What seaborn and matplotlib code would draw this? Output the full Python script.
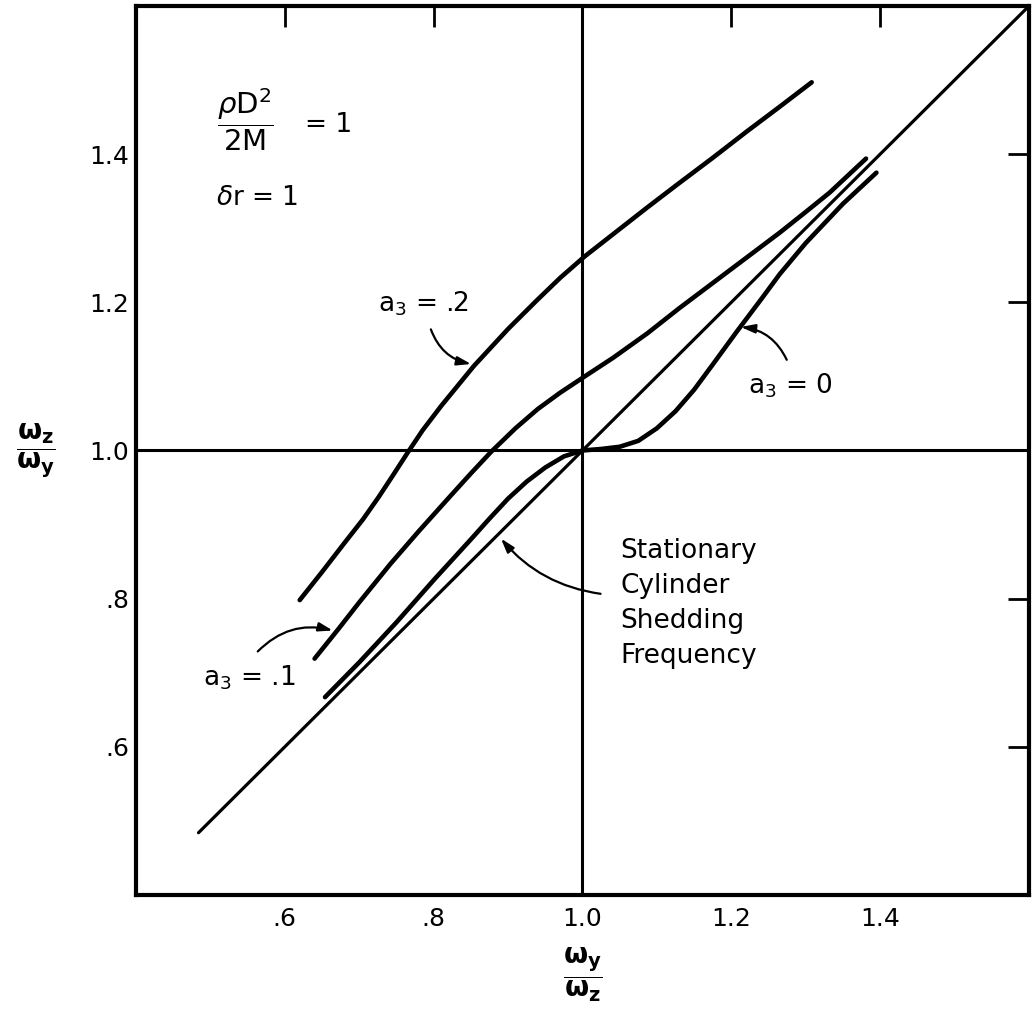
import matplotlib
matplotlib.use("Agg")
import matplotlib.pyplot as plt
import seaborn as sns
import pandas as pd

sns.set_theme(style="white")
plt.rcParams['font.family'] = ['DejaVu Sans']
plt.rcParams['mathtext.fontset'] = 'dejavusans'
plt.rcParams['text.color'] = 'black'
plt.rcParams['axes.labelcolor'] = 'black'

# ---- data ----
diag_x = [0.484, 1.60]
diag_y = [0.484, 1.60]

a0_x = [0.654, 0.70, 0.75, 0.80, 0.85, 0.875, 0.90, 0.925, 0.95, 0.975, 1.0, 1.025, 1.05,
        1.075, 1.10, 1.125, 1.15, 1.175, 1.207, 1.24, 1.265, 1.30, 1.35, 1.395]
a0_y = [0.667, 0.714, 0.768, 0.825, 0.880, 0.908, 0.935, 0.958, 0.977, 0.992, 1.0, 1.002, 1.005,
        1.013, 1.030, 1.053, 1.082, 1.116, 1.160, 1.204, 1.238, 1.280, 1.333, 1.375]

a1_x = [0.640, 0.672, 0.70, 0.742, 0.78, 0.822, 0.85, 0.877, 0.91, 0.940, 0.97, 1.0,
        1.041, 1.087, 1.13, 1.175, 1.22, 1.265, 1.30, 1.332, 1.381]
a1_y = [0.719, 0.759, 0.795, 0.847, 0.891, 0.938, 0.969, 0.998, 1.030, 1.056, 1.078, 1.098,
        1.125, 1.158, 1.192, 1.226, 1.260, 1.294, 1.322, 1.348, 1.394]

a2_x = [0.620, 0.650, 0.680, 0.705, 0.726, 0.745, 0.765, 0.785, 0.81, 0.854, 0.90, 0.938,
        0.97, 1.003, 1.045, 1.087, 1.13, 1.175, 1.22, 1.265, 1.308]
a2_y = [0.798, 0.836, 0.875, 0.907, 0.937, 0.966, 0.997, 1.027, 1.060, 1.114, 1.164, 1.202,
        1.233, 1.262, 1.295, 1.328, 1.361, 1.395, 1.430, 1.464, 1.497]

x_ticks = [0.6, 0.8, 1.0, 1.2, 1.4]
x_tick_labels = [".6", ".8", "1.0", "1.2", "1.4"]
y_ticks = [0.6, 0.8, 1.0, 1.2, 1.4]
y_tick_labels = [".6", ".8", "1.0", "1.2", "1.4"]

# ---- figure ----
fig = plt.figure(figsize=(10.35, 10.14), dpi=100)
ax = fig.add_axes([0.1314, 0.1174, 0.8628, 0.8767])

ax.axhline(1.0, color='black', lw=2.2, zorder=1)
ax.axvline(1.0, color='black', lw=2.2, zorder=1)

sns.lineplot(x=diag_x, y=diag_y, ax=ax, color='black', lw=2.3, sort=False, estimator=None)
for xs, ys in [(a0_x, a0_y), (a1_x, a1_y), (a2_x, a2_y)]:
    sns.lineplot(x=xs, y=ys, ax=ax, color='black', lw=3.3, sort=False, estimator=None,
                 solid_capstyle='round', solid_joinstyle='round')

ax.set_xlim(0.4, 1.6)
ax.set_ylim(0.4, 1.6)
ax.set_xticks(x_ticks)
ax.set_xticklabels(x_tick_labels)
ax.set_yticks(y_ticks)
ax.set_yticklabels(y_tick_labels)
ax.tick_params(axis='both', direction='in', length=15, width=2, labelsize=18,
               top=True, right=True, color='black', labelcolor='black')
ax.tick_params(axis='x', pad=9)
ax.tick_params(axis='y', pad=5)
for s in ax.spines.values():
    s.set_linewidth(3)
    s.set_color('black')

ax.set_xlabel(r'$\dfrac{\mathbf{\omega_y}}{\mathbf{\omega_z}}$', fontsize=20, labelpad=10)
ax.set_ylabel(r'$\dfrac{\mathbf{\omega_z}}{\mathbf{\omega_y}}$', fontsize=20, rotation=0,
              labelpad=38, va='center')

# parameter text
ax.text(0.547, 1.446, r'$\dfrac{\rho\mathrm{D}^{2}}{\mathrm{2M}}$', fontsize=21,
        ha='center', va='center')
ax.text(0.627, 1.440, '= 1', fontsize=19, ha='left', va='center')
ax.text(0.508, 1.341, r'$\delta$r = 1', fontsize=19, ha='left', va='center')

arrow_kw = dict(arrowstyle='-|>,head_length=0.7,head_width=0.22', color='black', lw=1.6)

# a3 = .2
ax.text(0.786, 1.198, 'a$_3$ = .2', fontsize=19, ha='center', va='center')
ax.annotate('', xy=(0.854, 1.116), xytext=(0.795, 1.167),
            arrowprops=dict(connectionstyle='arc3,rad=0.3', **arrow_kw))
# a3 = .1
ax.text(0.552, 0.693, 'a$_3$ = .1', fontsize=19, ha='center', va='center')
ax.annotate('', xy=(0.668, 0.756), xytext=(0.561, 0.726),
            arrowprops=dict(connectionstyle='arc3,rad=-0.3', **arrow_kw))
# a3 = 0
ax.text(1.280, 1.087, 'a$_3$ = 0', fontsize=19, ha='center', va='center')
ax.annotate('', xy=(1.209, 1.167), xytext=(1.276, 1.119),
            arrowprops=dict(connectionstyle='arc3,rad=0.3', **arrow_kw))
# stationary
ax.text(1.051, 0.882, 'Stationary\nCylinder\nShedding\nFrequency', fontsize=19,
        ha='left', va='top', linespacing=1.45)
ax.annotate('', xy=(0.888, 0.884), xytext=(1.028, 0.806),
            arrowprops=dict(connectionstyle='arc3,rad=-0.2', **arrow_kw))

fig.savefig('out.png', dpi=100)
